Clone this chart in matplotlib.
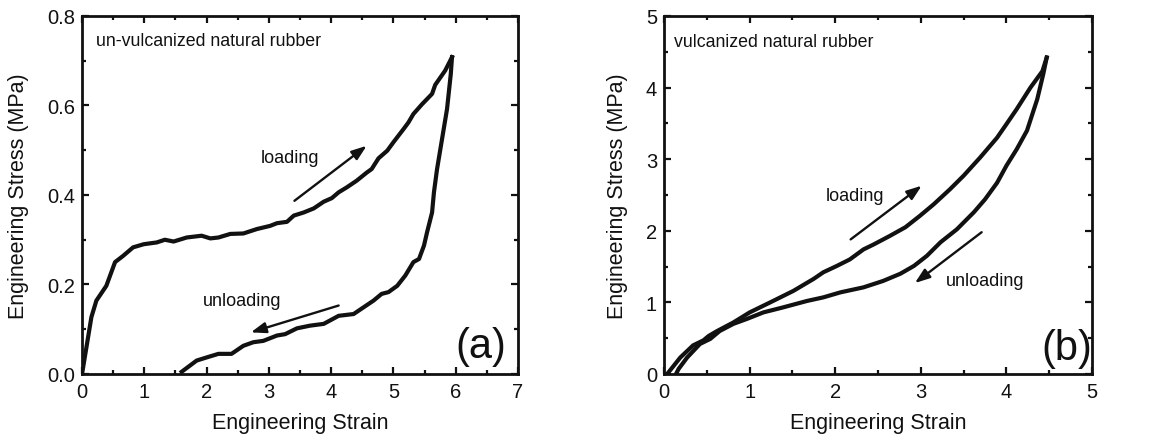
"""Loading/unloading stress-strain curves of natural rubber."""

import matplotlib
matplotlib.use("Agg")
import matplotlib.pyplot as plt
from matplotlib.ticker import MultipleLocator

plt.rcParams["font.family"] = ["Liberation Sans", "DejaVu Sans"]

# (a) un-vulcanized natural rubber
a_load_strain = [0.0, 0.15, 0.23, 0.39, 0.53, 0.66, 0.82, 0.99, 1.2, 1.33, 1.47,
                 1.68, 1.92, 2.06, 2.19, 2.38, 2.59, 2.81, 3.02, 3.13, 3.29, 3.4,
                 3.56, 3.72, 3.88, 4.01, 4.12, 4.25, 4.41, 4.57, 4.65, 4.76, 4.9,
                 5.0, 5.16, 5.24, 5.32, 5.46, 5.62, 5.67, 5.83, 5.94]
a_load_stress = [0.0, 0.127, 0.164, 0.197, 0.25, 0.264, 0.283, 0.29, 0.294, 0.30,
                 0.296, 0.305, 0.309, 0.303, 0.305, 0.313, 0.314, 0.324, 0.331,
                 0.337, 0.34, 0.354, 0.361, 0.37, 0.385, 0.393, 0.406, 0.417,
                 0.432, 0.45, 0.458, 0.482, 0.499, 0.518, 0.547, 0.562, 0.581,
                 0.603, 0.626, 0.646, 0.678, 0.708]
a_unload_strain = [5.94, 5.92, 5.86, 5.78, 5.7, 5.65, 5.62, 5.54, 5.49, 5.41, 5.32,
                   5.19, 5.06, 4.92, 4.81, 4.68, 4.52, 4.36, 4.12, 3.88, 3.66,
                   3.45, 3.26, 3.13, 2.91, 2.75, 2.59, 2.4, 2.19, 2.0, 1.84, 1.6]
a_unload_stress = [0.708, 0.67, 0.592, 0.525, 0.458, 0.406, 0.361, 0.317, 0.287,
                   0.257, 0.25, 0.22, 0.197, 0.183, 0.179, 0.164, 0.149, 0.134,
                   0.13, 0.112, 0.108, 0.102, 0.089, 0.086, 0.074, 0.071, 0.063,
                   0.045, 0.045, 0.037, 0.03, 0.005]

# (b) vulcanized natural rubber
b_load_strain = [0.05, 0.19, 0.34, 0.46, 0.52, 0.62, 0.81, 1.0, 1.24, 1.51, 1.75,
                 1.86, 2.02, 2.17, 2.33, 2.45, 2.64, 2.82, 2.99, 3.15, 3.34, 3.5,
                 3.69, 3.89, 4.0, 4.12, 4.28, 4.42, 4.47]
b_load_stress = [0.02, 0.23, 0.40, 0.47, 0.53, 0.60, 0.72, 0.86, 1.0, 1.16, 1.33,
                 1.42, 1.51, 1.6, 1.74, 1.81, 1.93, 2.05, 2.21, 2.37, 2.58, 2.77,
                 3.02, 3.30, 3.49, 3.70, 4.0, 4.23, 4.42]
b_unload_strain = [4.47, 4.43, 4.36, 4.24, 4.12, 4.0, 3.89, 3.75, 3.62, 3.42, 3.23,
                   3.07, 2.92, 2.76, 2.56, 2.33, 2.06, 1.86, 1.67, 1.39, 1.16,
                   0.97, 0.81, 0.65, 0.54, 0.42, 0.27, 0.17, 0.14]
b_unload_stress = [4.42, 4.19, 3.84, 3.40, 3.14, 2.91, 2.67, 2.44, 2.26, 2.02,
                   1.84, 1.65, 1.51, 1.40, 1.30, 1.21, 1.14, 1.07, 1.02, 0.93,
                   0.86, 0.77, 0.70, 0.60, 0.49, 0.42, 0.23, 0.07, 0.0]

INK = "#111111"


def style_axes(ax, xmax, ymax, xmajor, ymajor, yfmt):
    ax.set_xlim(0, xmax)
    ax.set_ylim(0, ymax)
    ax.xaxis.set_major_locator(MultipleLocator(xmajor))
    ax.xaxis.set_minor_locator(MultipleLocator(xmajor / 2))
    ax.yaxis.set_major_locator(MultipleLocator(ymajor))
    ax.yaxis.set_minor_locator(MultipleLocator(ymajor / 2))
    ax.yaxis.set_major_formatter(yfmt)
    ax.tick_params(which="both", direction="in", top=True, right=True,
                   width=1.6, labelsize=14.5, colors=INK)
    ax.tick_params(axis="x", which="major", length=5, pad=6)
    ax.tick_params(axis="y", which="major", length=5, pad=5)
    ax.tick_params(which="minor", length=3)
    for spine in ax.spines.values():
        spine.set_linewidth(2.0)
        spine.set_color(INK)
    ax.set_xlabel("Engineering Strain", fontsize=15.5, labelpad=8, color=INK)
    ax.set_ylabel("Engineering Stress (MPa)", fontsize=15.5, labelpad=13,
                  color=INK)


def arrow(ax, start, end):
    ax.annotate("", xy=end, xytext=start,
                arrowprops=dict(arrowstyle="-|>,head_length=0.5,head_width=0.18",
                                color=INK, lw=1.7, mutation_scale=18,
                                shrinkA=0, shrinkB=0))


fig = plt.figure(figsize=(11.67, 4.39), dpi=100)
ax_a = fig.add_axes([0.0703, 0.1458, 0.3736, 0.8155])
ax_b = fig.add_axes([0.569, 0.1458, 0.3668, 0.8155])

line_kw = dict(color=INK, lw=3.0, solid_joinstyle="round")

ax_a.plot(a_load_strain, a_load_stress, **line_kw)
ax_a.plot(a_unload_strain, a_unload_stress, **line_kw)
style_axes(ax_a, 7, 0.8, 1, 0.2, "{x:.1f}")
arrow(ax_a, (3.41, 0.387), (4.57, 0.51))
arrow(ax_a, (4.12, 0.153), (2.71, 0.093))
ax_a.text(3.34, 0.484, "loading", fontsize=13, ha="center", va="center",
          color=INK)
ax_a.text(2.57, 0.164, "unloading", fontsize=13, ha="center", va="center",
          color=INK)
ax_a.text(0.22, 0.745, "un-vulcanized natural rubber", fontsize=12.8,
          ha="left", va="center", color=INK)
ax_a.text(6.4, 0.062, "(a)", fontsize=30, ha="center", va="center", color=INK)

ax_b.plot(b_load_strain, b_load_stress, **line_kw)
ax_b.plot(b_unload_strain, b_unload_stress, **line_kw)
style_axes(ax_b, 5, 5, 1, 1, "{x:.0f}")
arrow(ax_b, (2.18, 1.88), (3.01, 2.63))
arrow(ax_b, (3.71, 1.98), (2.93, 1.27))
ax_b.text(2.23, 2.49, "loading", fontsize=13, ha="center", va="center",
          color=INK)
ax_b.text(3.75, 1.30, "unloading", fontsize=13, ha="center", va="center",
          color=INK)
ax_b.text(0.12, 4.65, "vulcanized natural rubber", fontsize=12.8,
          ha="left", va="center", color=INK)
ax_b.text(4.71, 0.37, "(b)", fontsize=30, ha="center", va="center", color=INK)

fig.savefig("out.png", dpi=100)
